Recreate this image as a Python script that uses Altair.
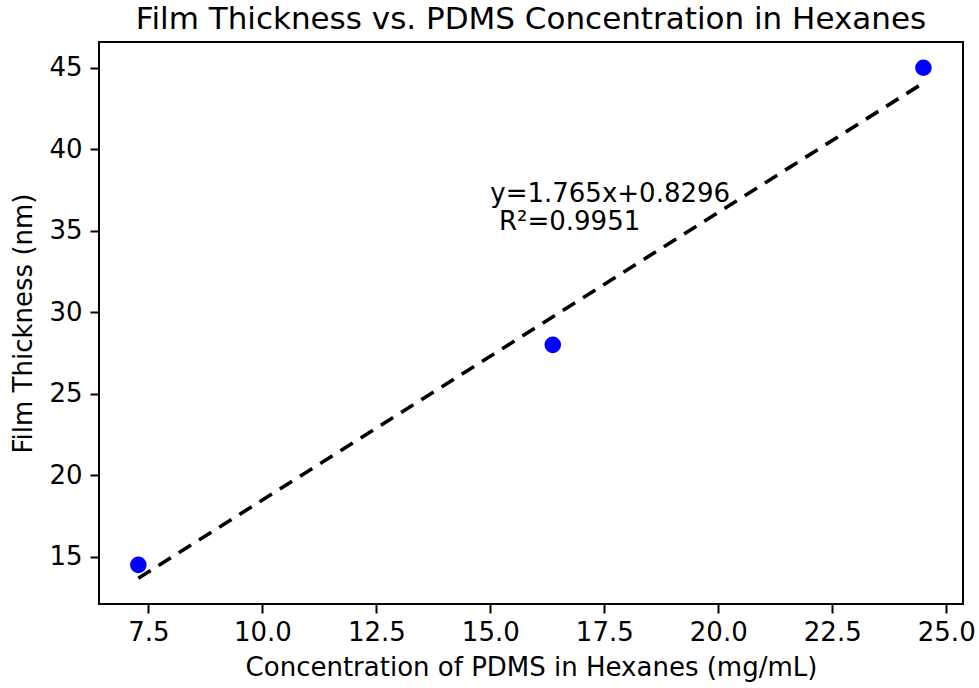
import altair as alt
import pandas as pd

# Data
conc = [7.28, 16.37, 24.5]
thickness = [14.5, 28.0, 45.0]
fit_x = [7.28, 24.5]
fit_y = [13.68, 44.07]
x_ticks = [7.5, 10.0, 12.5, 15.0, 17.5, 20.0, 22.5, 25.0]
y_ticks = [15, 20, 25, 30, 35, 40, 45]
ann_text = ["y=1.765x+0.8296", "R²=0.9951"]
ann_x = [15.0, 15.19]
ann_y = [37.25, 35.55]

FONT = "DejaVu Sans"

pts = pd.DataFrame({"x": conc, "y": thickness})
fit = pd.DataFrame({"x": fit_x, "y": fit_y})
ann = pd.DataFrame({"x": ann_x, "y": ann_y, "t": ann_text})

xscale = alt.Scale(domain=[6.417, 25.368], nice=False, zero=False)
yscale = alt.Scale(domain=[12.10, 46.58], nice=False, zero=False)

xaxis = alt.Axis(values=x_ticks, format=".1f", grid=False, domain=False,
                 tickSize=9, tickWidth=2, tickColor="black",
                 labelFont=FONT, labelFontSize=26, labelColor="black", labelPadding=6,
                 labelOverlap=False,
                 title="Concentration of PDMS in Hexanes (mg/mL)",
                 titleFont=FONT, titleFontSize=26, titleFontWeight="normal",
                 titleColor="black", titlePadding=9)
yaxis = alt.Axis(values=y_ticks, format="d", grid=False, domain=False,
                 tickSize=9, tickWidth=2, tickColor="black",
                 labelFont=FONT, labelFontSize=26, labelColor="black", labelPadding=8,
                 labelOverlap=False,
                 title="Film Thickness (nm)",
                 titleFont=FONT, titleFontSize=26, titleFontWeight="normal",
                 titleColor="black", titlePadding=12)

line = alt.Chart(fit).mark_line(color="black", strokeWidth=3.6, strokeDash=[14.5, 9.4]).encode(
    x=alt.X("x:Q", scale=xscale, axis=xaxis),
    y=alt.Y("y:Q", scale=yscale, axis=yaxis),
)

points = alt.Chart(pts).mark_circle(color="#0000ff", opacity=1, size=275).encode(
    x=alt.X("x:Q", scale=xscale),
    y=alt.Y("y:Q", scale=yscale),
)

text = alt.Chart(ann).mark_text(align="left", baseline="middle", font=FONT,
                                fontSize=26, color="black").encode(
    x=alt.X("x:Q", scale=xscale),
    y=alt.Y("y:Q", scale=yscale),
    text="t:N",
)

chart = alt.layer(line, points, text).properties(
    width=864, height=562,
    autosize=alt.AutoSizeParams(type="none"),
    padding={"left": 99, "top": 42, "right": 16, "bottom": 84},
    title=alt.TitleParams("Film Thickness vs. PDMS Concentration in Hexanes",
                          font=FONT, fontSize=31, fontWeight="normal",
                          color="black", anchor="middle", offset=6),
    background="white",
).configure_view(stroke="black", strokeWidth=2)

chart.save("out.html", embed_options={"renderer": "svg", "actions": False})
